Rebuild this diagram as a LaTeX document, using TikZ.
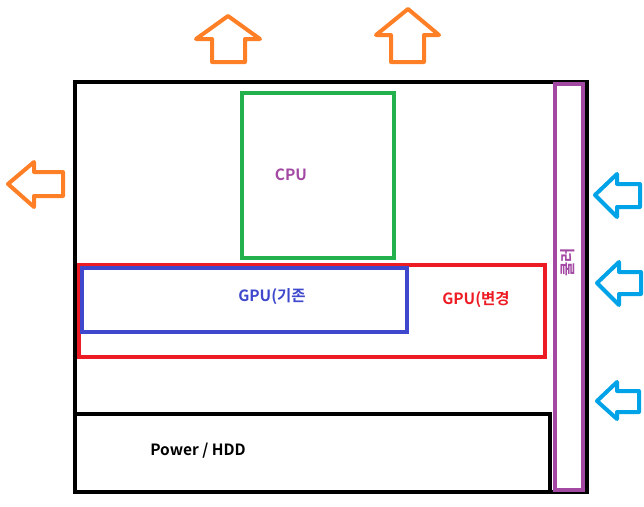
\documentclass[tikz,border=0pt]{standalone}
\usepackage{fontspec}
\setmainfont{Noto Sans CJK KR}[BoldFont={Noto Sans CJK KR Bold}]
\definecolor{porange}{HTML}{FF7F27}
\definecolor{pcyan}{HTML}{00A2E8}
\definecolor{pgreen}{HTML}{22B14C}
\definecolor{pred}{HTML}{ED1C24}
\definecolor{pblue}{HTML}{3F48CC}
\definecolor{ppurple}{HTML}{A349A4}
\begin{document}
\begin{tikzpicture}[x=1pt,y=-1pt,
  boxline/.style={line width=4pt},
  arr/.style={line width=4pt,line join=round,line cap=round},
  lbl/.style={font=\bfseries\fontsize{15.5pt}{18pt}\selectfont,inner sep=1pt}]
\useasboundingbox (0,0) rectangle (644,506);
% main frame
\draw[boxline,black] (75,82) rectangle (587,492);
% power / hdd
\draw[boxline,black] (75,414) rectangle (550,492);
% cooler
\draw[boxline,ppurple,fill=white] (555,84) rectangle (583,490);
% CPU
\draw[boxline,pgreen] (242,93) rectangle (394,258);
% GPU new
\draw[boxline,pred] (79,265) rectangle (545,357);
% GPU old
\draw[boxline,pblue] (82,268) rectangle (407,332);
% labels
\node[lbl,text=ppurple] (cpu) at (291,175) {CPU};
\node[lbl,text=pblue] (gpuold) at (272,297) {GPU(기존};
\node[lbl,text=pred] (gpunew) at (476,300) {GPU(변경};
\node[lbl,text=black] (power) at (198,451) {Power / HDD};
\node[lbl,text=ppurple,fill=white,rotate=90,inner sep=3pt] (cooler) at (568,262) {쿨러};
% orange up arrows
\draw[arr,porange] (228,16) -- (260,39) -- (245,39) -- (245,62) -- (212,62) -- (212,39) -- (196,39) -- cycle;
\draw[arr,porange] (408,9) -- (439,35) -- (424,35) -- (424,62) -- (391,62) -- (391,35) -- (376,35) -- cycle;
% orange left arrow
\draw[arr,porange] (8,184) -- (34,162) -- (34,172) -- (63,172) -- (63,196) -- (34,196) -- (34,207) -- cycle;
% cyan left arrows
\draw[arr,pcyan] (595,195) -- (617,174) -- (617,184) -- (640,184) -- (640,207) -- (617,207) -- (617,217) -- cycle;
\draw[arr,pcyan] (597,283) -- (619,262) -- (619,272) -- (641,272) -- (641,294) -- (619,294) -- (619,305) -- cycle;
\draw[arr,pcyan] (597,401) -- (617,382) -- (617,391) -- (639,391) -- (639,412) -- (617,412) -- (617,419) -- cycle;
\end{tikzpicture}
\end{document}
